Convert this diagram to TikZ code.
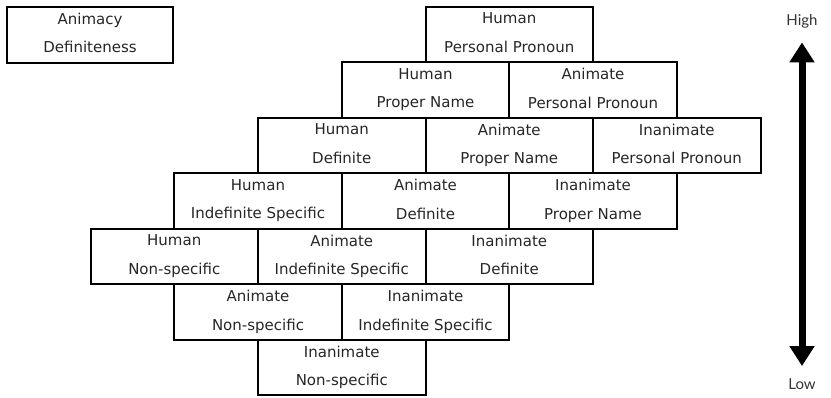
\documentclass[tikz,border=0pt]{standalone}
\usepackage{fontspec}
\setmainfont{DejaVu Sans}
\newfontfamily\latofont{Lato}
\usetikzlibrary{arrows.meta, positioning}

\begin{document}
\begin{tikzpicture}[x=1pt, y=-1pt, node distance=0pt,
    cell/.style={draw, line width=2pt, outer sep=0pt, inner sep=0pt,
      minimum width=167.5pt, minimum height=55.5pt, align=center,
      text=black!85, font=\fontsize{15}{28.5}\selectfont,
      execute at begin node=\rule{0pt}{14pt},
      execute at end node=\rule[-4pt]{0pt}{4pt}},
    level/.style={font=\latofont\fontsize{15}{17}\selectfont, text=black!80}]
    \useasboundingbox (0,0) rectangle (831,398);
    % legend
    \node[cell, anchor=north west, minimum width=166pt, minimum height=56pt] (key) at (7,7) {Animacy\\Definiteness};
    % hierarchy, row by row
    \node[cell, anchor=north west] (hpp) at (425.5,7) {Human\\Personal Pronoun};
    \node[cell, anchor=north west] (hpn) at (341.75,62.5) {Human\\Proper Name};
    \node[cell, right=of hpn] (app) {Animate\\Personal Pronoun};
    \node[cell, anchor=north west] (hdef) at (258,118) {Human\\Definite};
    \node[cell, right=of hdef] (apn) {Animate\\Proper Name};
    \node[cell, right=of apn] (ipp) {Inanimate\\Personal Pronoun};
    \node[cell, anchor=north west] (hind) at (174.25,173.5) {Human\\Indefinite Specific};
    \node[cell, right=of hind] (adef) {Animate\\Definite};
    \node[cell, right=of adef] (ipn) {Inanimate\\Proper Name};
    \node[cell, anchor=north west] (hns) at (90.5,229) {Human\\Non-specific};
    \node[cell, right=of hns] (aind) {Animate\\Indefinite Specific};
    \node[cell, right=of aind] (idef) {Inanimate\\Definite};
    \node[cell, anchor=north west] (ans) at (174.25,284.5) {Animate\\Non-specific};
    \node[cell, right=of ans] (iind) {Inanimate\\Indefinite Specific};
    \node[cell, anchor=north west] (ins) at (258,340) {Inanimate\\Non-specific};
    % scale
    \node[level] (high) at (802,21) {High};
    \node[level] (low) at (802,384) {Low};
    \draw[line width=7pt, shorten <=11pt, shorten >=9pt,
      {Triangle[width=24pt,length=20pt]}-{Triangle[width=24pt,length=20pt]}] (high) -- (low);
\end{tikzpicture}
\end{document}
